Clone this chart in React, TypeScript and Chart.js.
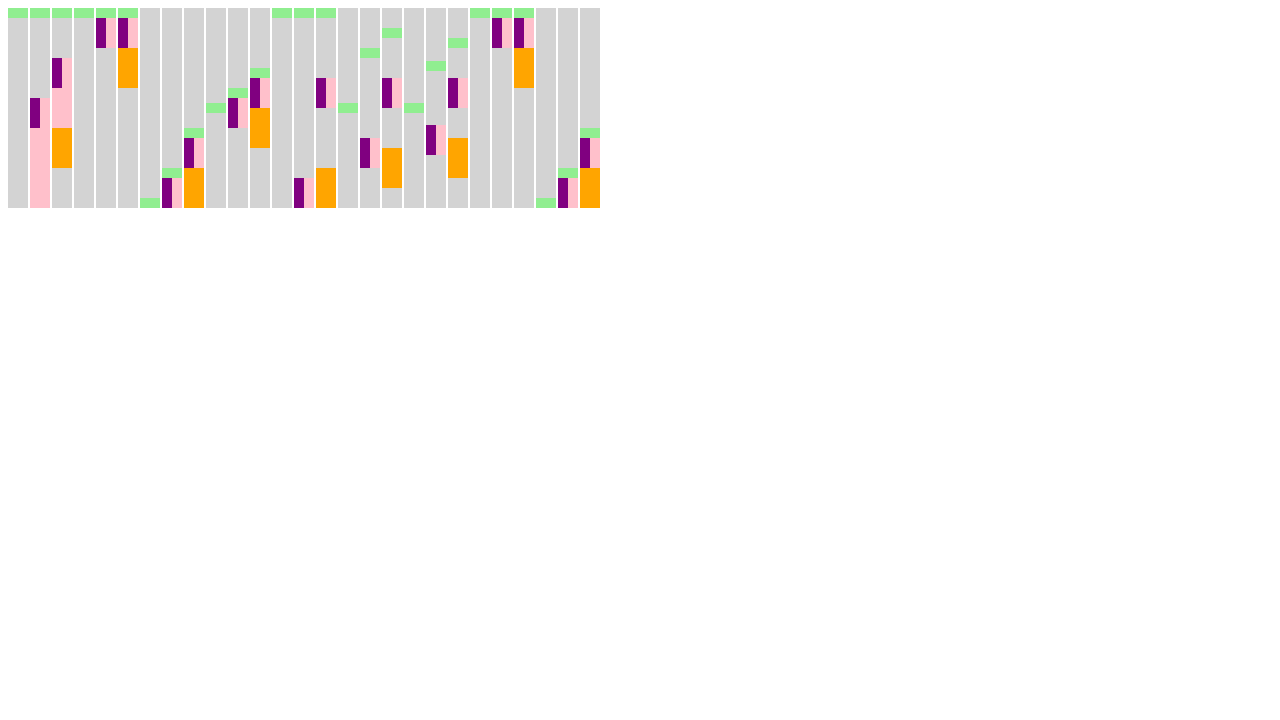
import React, { useEffect, useRef } from "react";
import { Chart, registerables } from "chart.js";

Chart.register(...registerables);

const categories = Array.from({ length: 27 }, (_, i) => `C${i + 1}`);

const greenStart = [0, 0, 0, 0, 0, 0, 190, 160, 120, 95, 80, 60, 0, 0, 0, 95, 40, 20, 95, 53, 30, 0, 0, 0, 190, 160, 120];
const greenEnd = [10, 10, 10, 10, 10, 10, 200, 170, 130, 105, 90, 70, 10, 10, 10, 105, 50, 30, 105, 63, 40, 10, 10, 10, 200, 170, 130];

const purpleStart = [null, 90, 50, null, 10, 10, null, 170, 130, null, 90, 70, null, 170, 70, null, 130, 70, null, 117, 70, null, 10, 10, null, 170, 130];
const purpleEnd = [null, 120, 80, null, 40, 40, null, 200, 160, null, 120, 100, null, 200, 100, null, 160, 100, null, 147, 100, null, 40, 40, null, 200, 160];

const pinkStart = [null, 90, 50, null, 10, 10, null, 170, 130, null, 90, 70, null, 170, 70, null, 130, 70, null, 117, 70, null, 10, 10, null, 170, 130];
const pinkEnd = [null, 200, 120, null, 40, 40, null, 200, 160, null, 120, 100, null, 200, 100, null, 160, 100, null, 147, 100, null, 40, 40, null, 200, 160];

const orangeStart = [null, null, 120, null, null, 40, null, null, 160, null, null, 100, null, null, 160, null, null, 140, null, null, 130, null, null, 40, null, null, 160];
const orangeEnd = [null, null, 160, null, null, 80, null, null, 200, null, null, 140, null, null, 200, null, null, 180, null, null, 170, null, null, 80, null, null, 200];

const backgroundStart = categories.map(() => 0);
const backgroundEnd = categories.map(() => 200);

const pair = (a: (number | null)[], b: (number | null)[]) =>
  a.map((v, i) => (v === null || b[i] === null ? null : [v, b[i] as number]));

export default function App() {
  const ref = useRef<HTMLCanvasElement | null>(null);

  useEffect(() => {
    if (!ref.current) return;
    const full = { grouped: false, barThickness: 20, inflateAmount: 0, borderWidth: 0 };
    const chart = new Chart(ref.current, {
      type: "bar",
      data: {
        labels: categories,
        datasets: [
          { label: "bg", data: pair(backgroundStart, backgroundEnd) as any, backgroundColor: "#d3d3d3", order: 6, ...full },
          { label: "pink", data: pair(pinkStart, pinkEnd) as any, backgroundColor: "#ffc0cb", order: 5, ...full },
          { label: "orange", data: pair(orangeStart, orangeEnd) as any, backgroundColor: "#ffa500", order: 4, ...full },
          { label: "green", data: pair(greenStart, greenEnd) as any, backgroundColor: "#90ee90", order: 3, ...full },
          {
            label: "purple",
            data: pair(purpleStart, purpleEnd) as any,
            backgroundColor: "#800080",
            order: 0,
            grouped: true,
            stack: "a",
            barThickness: 10,
            inflateAmount: 0,
            borderWidth: 0,
          },
          {
            label: "spacer",
            data: categories.map(() => null) as any,
            backgroundColor: "rgba(0,0,0,0)",
            order: 1,
            grouped: true,
            stack: "b",
            barThickness: 10,
            inflateAmount: 0,
            borderWidth: 0,
          },
        ] as any,
      },
      options: {
        responsive: false,
        animation: false,
        devicePixelRatio: 1,
        layout: { padding: 0 },
        plugins: { legend: { display: false }, tooltip: { enabled: false } },
        scales: {
          x: { type: "category", display: false, offset: true },
          y: { display: false, min: 0, max: 200, reverse: true },
        },
      },
    });
    return () => chart.destroy();
  }, []);

  return (
    <canvas
      ref={ref}
      width={594}
      height={200}
      style={{ display: "block", marginLeft: -1, width: 594, height: 200 }}
    />
  );
}
